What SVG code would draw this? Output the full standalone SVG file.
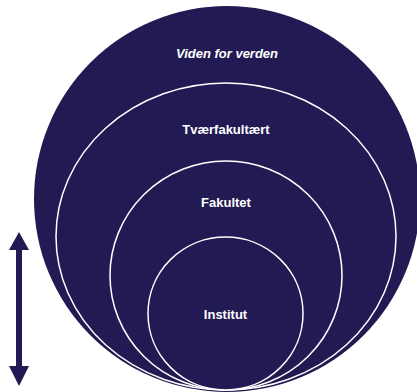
<svg xmlns="http://www.w3.org/2000/svg" width="417" height="392" viewBox="0 0 417 392">
<style>
.ring{fill:#221a52;stroke:#ffffff;stroke-width:1.5}
.lbl{font-family:"Liberation Sans",Arial,sans-serif;font-size:13px;font-weight:bold;fill:#ffffff;text-anchor:middle}
</style>
<rect width="417" height="392" fill="#ffffff"/>
<g id="world">
<ellipse cx="227" cy="199" rx="193" ry="193" fill="#221a52"/>
<text class="lbl" x="227" y="58" font-style="italic">Viden for verden</text>
</g>
<g id="tvaerfakultaert">
<ellipse class="ring" cx="226" cy="236.5" rx="170" ry="153.5"/>
<text class="lbl" x="226" y="134">Tværfakultært</text>
</g>
<g id="fakultet">
<ellipse class="ring" cx="226" cy="275.5" rx="116" ry="114.5"/>
<text class="lbl" x="226" y="207">Fakultet</text>
</g>
<g id="institut">
<ellipse class="ring" cx="225.5" cy="313.5" rx="77.5" ry="76.5"/>
<text class="lbl" x="225.5" y="319">Institut</text>
</g>
<g id="connectors">
<path d="M19 232 L29 250 L22 250 L22 366 L29 366 L19 386 L9 366 L16 366 L16 250 L9 250 Z" fill="#221a52"/>
</g>
</svg>
